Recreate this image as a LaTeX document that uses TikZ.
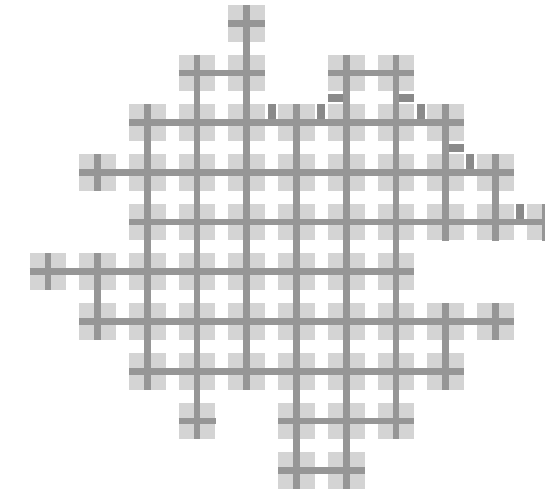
\documentclass[tikz,border=0pt]{standalone}
\definecolor{sitegray}{RGB}{212,212,212}
\definecolor{bondgray}{RGB}{150,150,150}
\definecolor{bargray}{RGB}{138,138,138}
\usetikzlibrary{calc}

\begin{document}
\begin{tikzpicture}[x=49.7pt,y=-49.7pt,
        site/.style={fill=sitegray},
        bond/.style={draw=bondgray,line width=6.7pt},
        gapbar/.style={fill=bargray}]

  \useasboundingbox (-0.966,-0.469) rectangle (10.0,9.551);

  % sites and horizontal bonds: row / first column / last column
  \foreach \r/\a/\b in {0/4/4,1/3/4,1/6/7,2/2/8,3/1/9,4/2/10,5/0/7,6/1/9,7/2/8,8/3/3,8/5/7,9/5/6}{
    \foreach \c in {\a,...,\b}{
      \coordinate (s-\c-\r) at (\c,\r);
      \foreach \dx/\dy in {-1/-1,-1/1,1/-1,1/1}
        \fill[site] ([shift={(\dx*10.85pt-7.5pt,\dy*10.85pt-7.5pt)}]s-\c-\r) rectangle +(15pt,15pt);
    }
    \draw[bond] ([xshift=-18.4pt]s-\a-\r) -- ([xshift=18.4pt]s-\b-\r);
  }

  % vertical bonds: column / first row / last row
  \foreach \c/\a/\b in {0/5/5,1/3/3,1/5/6,2/2/7,3/1/8,4/0/7,5/2/9,6/1/9,7/1/8,8/2/4,8/6/7,9/3/4,9/6/6,10/4/4}
    \draw[bond] ([yshift=18.4pt]s-\c-\a) -- ([yshift=-18.4pt]s-\c-\b);

  % short bars in the gaps
  \foreach \p/\q in {s-4-2/s-5-2,s-5-2/s-6-2,s-7-2/s-8-2,s-8-3/s-9-3,s-9-4/s-10-4}
    \fill[gapbar] ($(\p)!0.5!(\q)+(-4pt,3.35pt)$) rectangle +(8pt,15pt);
  \foreach \p/\q/\dx in {s-6-1/s-6-2/-18.35pt,s-7-1/s-7-2/3.35pt,s-8-2/s-8-3/3.35pt}
    \fill[gapbar] ($(\p)!0.5!(\q)+(\dx,-4pt)$) rectangle +(15pt,8pt);

\end{tikzpicture}
\end{document}
